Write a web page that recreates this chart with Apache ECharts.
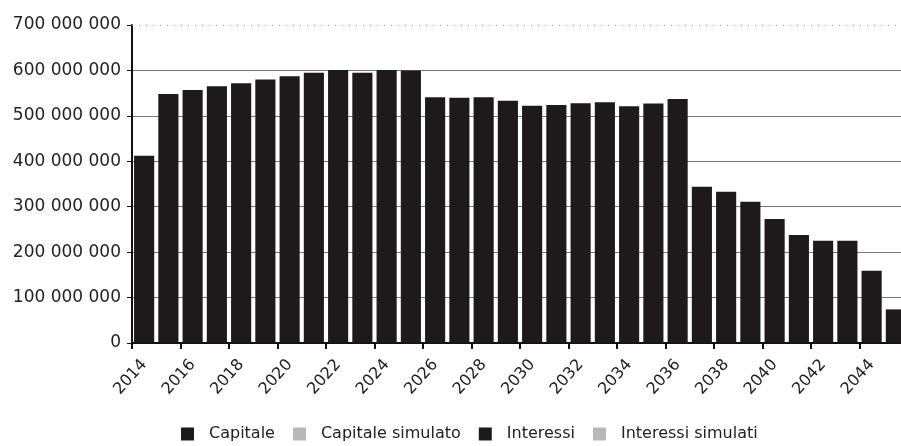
<!DOCTYPE html>
<html>
<head>
<meta charset="utf-8">
<script src="https://cdn.jsdelivr.net/npm/echarts@6/dist/echarts.min.js"></script>
<style>
  html, body { margin: 0; padding: 0; background: #fff; overflow: hidden; }
  #chart { width: 908px; height: 446px; }
</style>
</head>
<body>
<div id="chart"></div>
<script>
// anni
var years = [];
for (var y = 2014; y <= 2045; y++) years.push(String(y));

// valori (totale per anno)
var capitale = [
  412e6, 548e6, 557e6, 565e6, 572e6, 580e6, 587e6, 595e6,
  601e6, 595e6, 601e6, 600e6, 541e6, 540e6, 541e6, 533e6,
  522e6, 524e6, 528e6, 530e6, 521e6, 527e6, 537e6, 344e6,
  333e6, 311e6, 273e6, 238e6, 225e6, 225e6, 159e6, 74e6
];
var capitaleSimulato = [];
var interessi = [];
var interessiSimulati = [];

var legendNames = ["Capitale", "Capitale simulato", "Interessi", "Interessi simulati"];
var yMax = 700000000;

var fontFam = "DejaVu Sans";
var chart = echarts.init(document.getElementById("chart"));

function fmt(v) {
  // 700000000 -> "700 000 000"
  return String(v).replace(/\B(?=(\d{3})+(?!\d))/g, " ");
}

var option = {
  backgroundColor: "#fff",
  animation: false,
  grid: {
    left: 132,
    right: 0,
    top: 25,
    bottom: 103,
    containLabel: false
  },
  legend: {
    data: legendNames,
    left: 176,
    top: 421,
    itemWidth: 13,
    itemHeight: 13,
    itemGap: 18,
    icon: "rect",
    textStyle: {
      fontFamily: fontFam,
      fontSize: 16,
      color: "#222",
      padding: [0, 0, 0, 10]
    }
  },
  xAxis: {
    type: "category",
    data: years,
    boundaryGap: true,
    axisLine: { show: true, lineStyle: { color: "#111", width: 2 } },
    axisTick: { show: true, interval: 1, length: 6, lineStyle: { color: "#111", width: 2 } },
    axisLabel: {
      interval: 1,
      rotate: 48,
      margin: 19,
      fontFamily: fontFam,
      fontSize: 16,
      color: "#222"
    },
    splitLine: { show: false }
  },
  yAxis: {
    type: "value",
    min: 0,
    max: yMax,
    interval: 100000000,
    axisLine: { show: true, lineStyle: { color: "#111", width: 2 } },
    axisTick: { show: true, length: 5, lineStyle: { color: "#111", width: 1 } },
    axisLabel: {
      margin: 11,
      fontFamily: fontFam,
      fontSize: 17,
      color: "#222",
      formatter: fmt
    },
    splitLine: {
      show: true,
      lineStyle: {
        color: ["#777", "#777", "#777", "#777", "#777", "#777", "#777", "rgba(0,0,0,0)"],
        width: 1
      }
    }
  },
  series: [
    {
      name: "Capitale",
      type: "bar",
      stack: "tot",
      data: capitale,
      barCategoryGap: "17%",
      itemStyle: { color: "#1e1a1b" },
      markLine: {
        silent: true,
        symbol: "none",
        label: { show: false },
        lineStyle: { color: "#999", type: [1, 6], width: 1 },
        data: [{ yAxis: yMax }]
      }
    },
    {
      name: "Capitale simulato",
      type: "bar",
      stack: "tot",
      data: capitaleSimulato,
      itemStyle: { color: "#b8b8b8" }
    },
    {
      name: "Interessi",
      type: "bar",
      stack: "tot",
      data: interessi,
      itemStyle: { color: "#1e1a1b" }
    },
    {
      name: "Interessi simulati",
      type: "bar",
      stack: "tot",
      data: interessiSimulati,
      itemStyle: { color: "#b8b8b8" }
    }
  ]
};

chart.setOption(option);
</script>
</body>
</html>
